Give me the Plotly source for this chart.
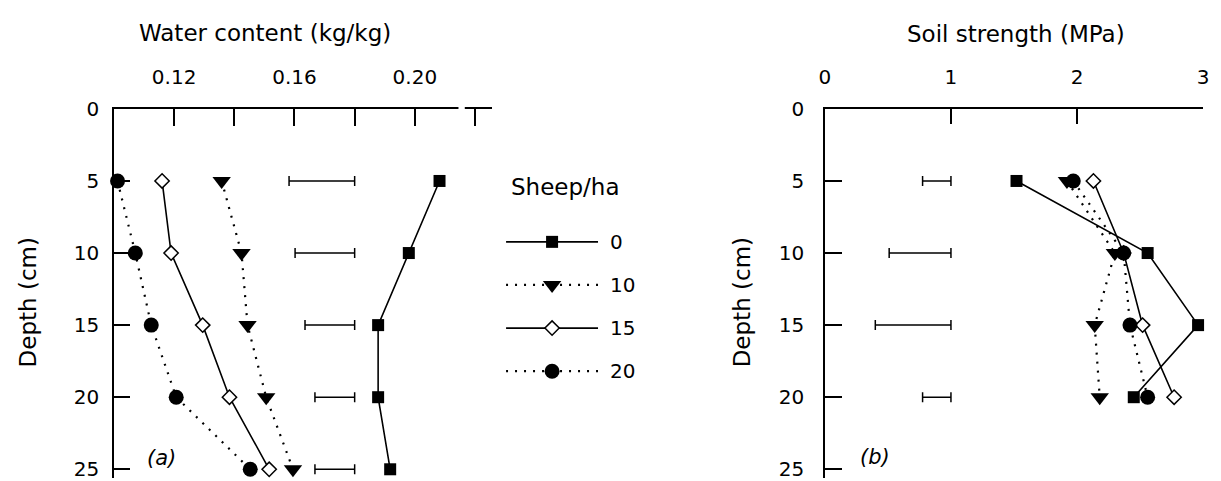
import plotly.graph_objects as go

W, H = 1221, 481
FONT = "DejaVu Sans"

# ---------------- data ----------------
depth_a = [5, 10, 15, 20, 25]
depth_b = [5, 10, 15, 20]
sheep_labels = ["0", "10", "15", "20"]

water_0 = [0.2082, 0.1980, 0.1878, 0.1878, 0.1918]
water_10 = [0.1358, 0.1424, 0.1444, 0.1506, 0.1595]
water_15 = [0.1160, 0.1190, 0.1295, 0.1384, 0.1516]
water_20 = [0.1012, 0.1071, 0.1124, 0.1207, 0.1453]
water_lsd_right = [0.18, 0.18, 0.18, 0.18, 0.18]
water_lsd_len = [0.0218, 0.0198, 0.0165, 0.0132, 0.0132]

strength_0 = [1.52, 2.56, 2.96, 2.45]
strength_10 = [1.92, 2.30, 2.14, 2.18]
strength_15 = [2.13, 2.37, 2.52, 2.77]
strength_20 = [1.97, 2.37, 2.42, 2.56]
strength_lsd_right = [1.0, 1.0, 1.0, 1.0]
strength_lsd_len = [0.225, 0.49, 0.60, 0.225]

water_ticks = [0.12, 0.14, 0.16, 0.18, 0.20, 0.22]
water_ticktext = ["0.12", "", "0.16", "", "0.20", ""]
strength_ticks = [0, 1, 2, 3]
depth_ticks = [0, 5, 10, 15, 20, 25]

# ---------------- styles ----------------
DOT = "2px,7px"
styles = [
    dict(symbol="square", size=12, color="black", lw=0, dash="solid"),
    dict(symbol="triangle-down", size=16, color="black", lw=0, dash=DOT),
    dict(symbol="diamond", size=11, color="white", lw=1.5, dash="solid"),
    dict(symbol="circle", size=15, color="black", lw=0, dash=DOT),
]

fig = go.Figure()


def add_series(xs, ys, st, xa, ya):
    fig.add_trace(go.Scatter(
        x=xs, y=ys, mode="lines+markers", xaxis=xa, yaxis=ya,
        line=dict(color="black", width=1.6 if st["dash"] == "solid" else 2.2,
                  dash=st["dash"]),
        marker=dict(symbol=st["symbol"], size=st["size"], color=st["color"],
                    line=dict(color="black", width=st["lw"])),
        showlegend=False, cliponaxis=False))


water = [water_0, water_10, water_15, water_20]
strength = [strength_0, strength_10, strength_15, strength_20]

# LSD bars
fig.add_trace(go.Scatter(
    x=water_lsd_right, y=depth_a, mode="markers", xaxis="x", yaxis="y",
    marker=dict(size=1, color="rgba(0,0,0,0)"),
    error_x=dict(type="data", symmetric=False, array=[0] * 5,
                 arrayminus=water_lsd_len, color="black", thickness=1.5, width=5),
    showlegend=False))
fig.add_trace(go.Scatter(
    x=strength_lsd_right, y=depth_b, mode="markers", xaxis="x2", yaxis="y2",
    marker=dict(size=1, color="rgba(0,0,0,0)"),
    error_x=dict(type="data", symmetric=False, array=[0] * 4,
                 arrayminus=strength_lsd_len, color="black", thickness=1.5, width=5),
    showlegend=False))

for vals, st in zip(water, styles):
    add_series(vals, depth_a, st, "x", "y")
for vals, st in zip(strength, styles):
    add_series(vals, depth_b, st, "x2", "y2")

# custom legend (own small axes)
for i, st in enumerate(styles):
    fig.add_trace(go.Scatter(
        x=[0, 1], y=[i, i], mode="lines", xaxis="x3", yaxis="y3",
        line=dict(color="black", width=1.6 if st["dash"] == "solid" else 2.2,
                  dash=st["dash"]),
        showlegend=False, hoverinfo="skip"))
    fig.add_trace(go.Scatter(
        x=[0.5], y=[i], mode="markers", xaxis="x3", yaxis="y3",
        marker=dict(symbol=st["symbol"], size=st["size"], color=st["color"],
                    line=dict(color="black", width=st["lw"])),
        showlegend=False, hoverinfo="skip", cliponaxis=False))

px = lambda v: v / W
py = lambda v: 1 - v / H

Y_TOP = 100
ydom = [0, py(Y_TOP)]
yrange = [25 + (H - 472) / ((472 - Y_TOP) / 25), 0]

axis_common = dict(showgrid=False, zeroline=False, showline=True,
                   linecolor="black", linewidth=1.5, ticks="inside",
                   tickcolor="black", tickwidth=1.5, ticklabeloverflow="allow",
                   tickfont=dict(family=FONT, size=20, color="black"))

fig.update_layout(
    width=W, height=H, margin=dict(l=0, r=0, t=0, b=0),
    paper_bgcolor="white", plot_bgcolor="white",
    font=dict(family=FONT, color="black"),
    xaxis=dict(domain=[px(109), px(491)], range=[0.10, 0.2257], side="top",
               anchor="y", tickmode="array", tickvals=water_ticks,
               ticktext=water_ticktext, ticklen=17, ticklabelstandoff=15,
               **axis_common),
    yaxis=dict(domain=ydom, range=yrange, anchor="x", tickmode="array",
               tickvals=depth_ticks, ticklen=16, ticklabelstandoff=9,
               **axis_common),
    xaxis2=dict(domain=[px(827), px(1209)], range=[0, 3], side="top",
                anchor="y2", tickmode="array", tickvals=strength_ticks,
                ticklen=15, ticklabelstandoff=15, **axis_common),
    yaxis2=dict(domain=ydom, range=yrange, anchor="x2", tickmode="array",
                tickvals=depth_ticks, ticklen=17, ticklabelstandoff=15,
                **axis_common),
    xaxis3=dict(domain=[px(505), px(598)], range=[0, 1], visible=False,
                anchor="y3"),
    yaxis3=dict(domain=[py(393), py(215)], range=[3.5, -0.5], visible=False,
                anchor="x3"),
)

# axis break in the water content axis
fig.add_shape(type="rect", xref="x", yref="paper", x0=0.2145, x1=0.2166,
              y0=py(Y_TOP) - 0.006, y1=py(Y_TOP) + 0.006,
              fillcolor="white", line=dict(width=0), layer="above")

ann_font = dict(family=FONT, size=23, color="black")
annotations = [
    dict(text="Water content (kg/kg)", x=px(262), y=py(22)),
    dict(text="Soil strength (MPa)", x=px(1020), y=py(23)),
    dict(text="Sheep/ha", x=px(565), y=py(181)),
]
for a in annotations:
    fig.add_annotation(xref="paper", yref="paper", xanchor="center",
                       yanchor="middle", showarrow=False, font=ann_font, **a)

for xc in (22, 743):
    fig.add_annotation(text="Depth (cm)", xref="paper", yref="paper",
                       x=px(xc), y=py(300), textangle=-90, showarrow=False,
                       xanchor="center", yanchor="middle", font=ann_font)

for txt, xc, yc in (("(a)", 157, 460), ("(b)", 878, 459)):
    fig.add_annotation(text=txt, xref="paper", yref="paper", x=px(xc), y=py(yc),
                       showarrow=False, xanchor="center", yanchor="middle",
                       font=dict(family=FONT, size=21, color="black",
                                 style="italic"))

for i, lab in enumerate(sheep_labels):
    fig.add_annotation(text=lab, xref="x3", yref="y3", x=1, y=i, xshift=10,
                       xanchor="left", yanchor="middle", showarrow=False,
                       font=dict(family=FONT, size=20, color="black"))

fig.write_html("out.html")
